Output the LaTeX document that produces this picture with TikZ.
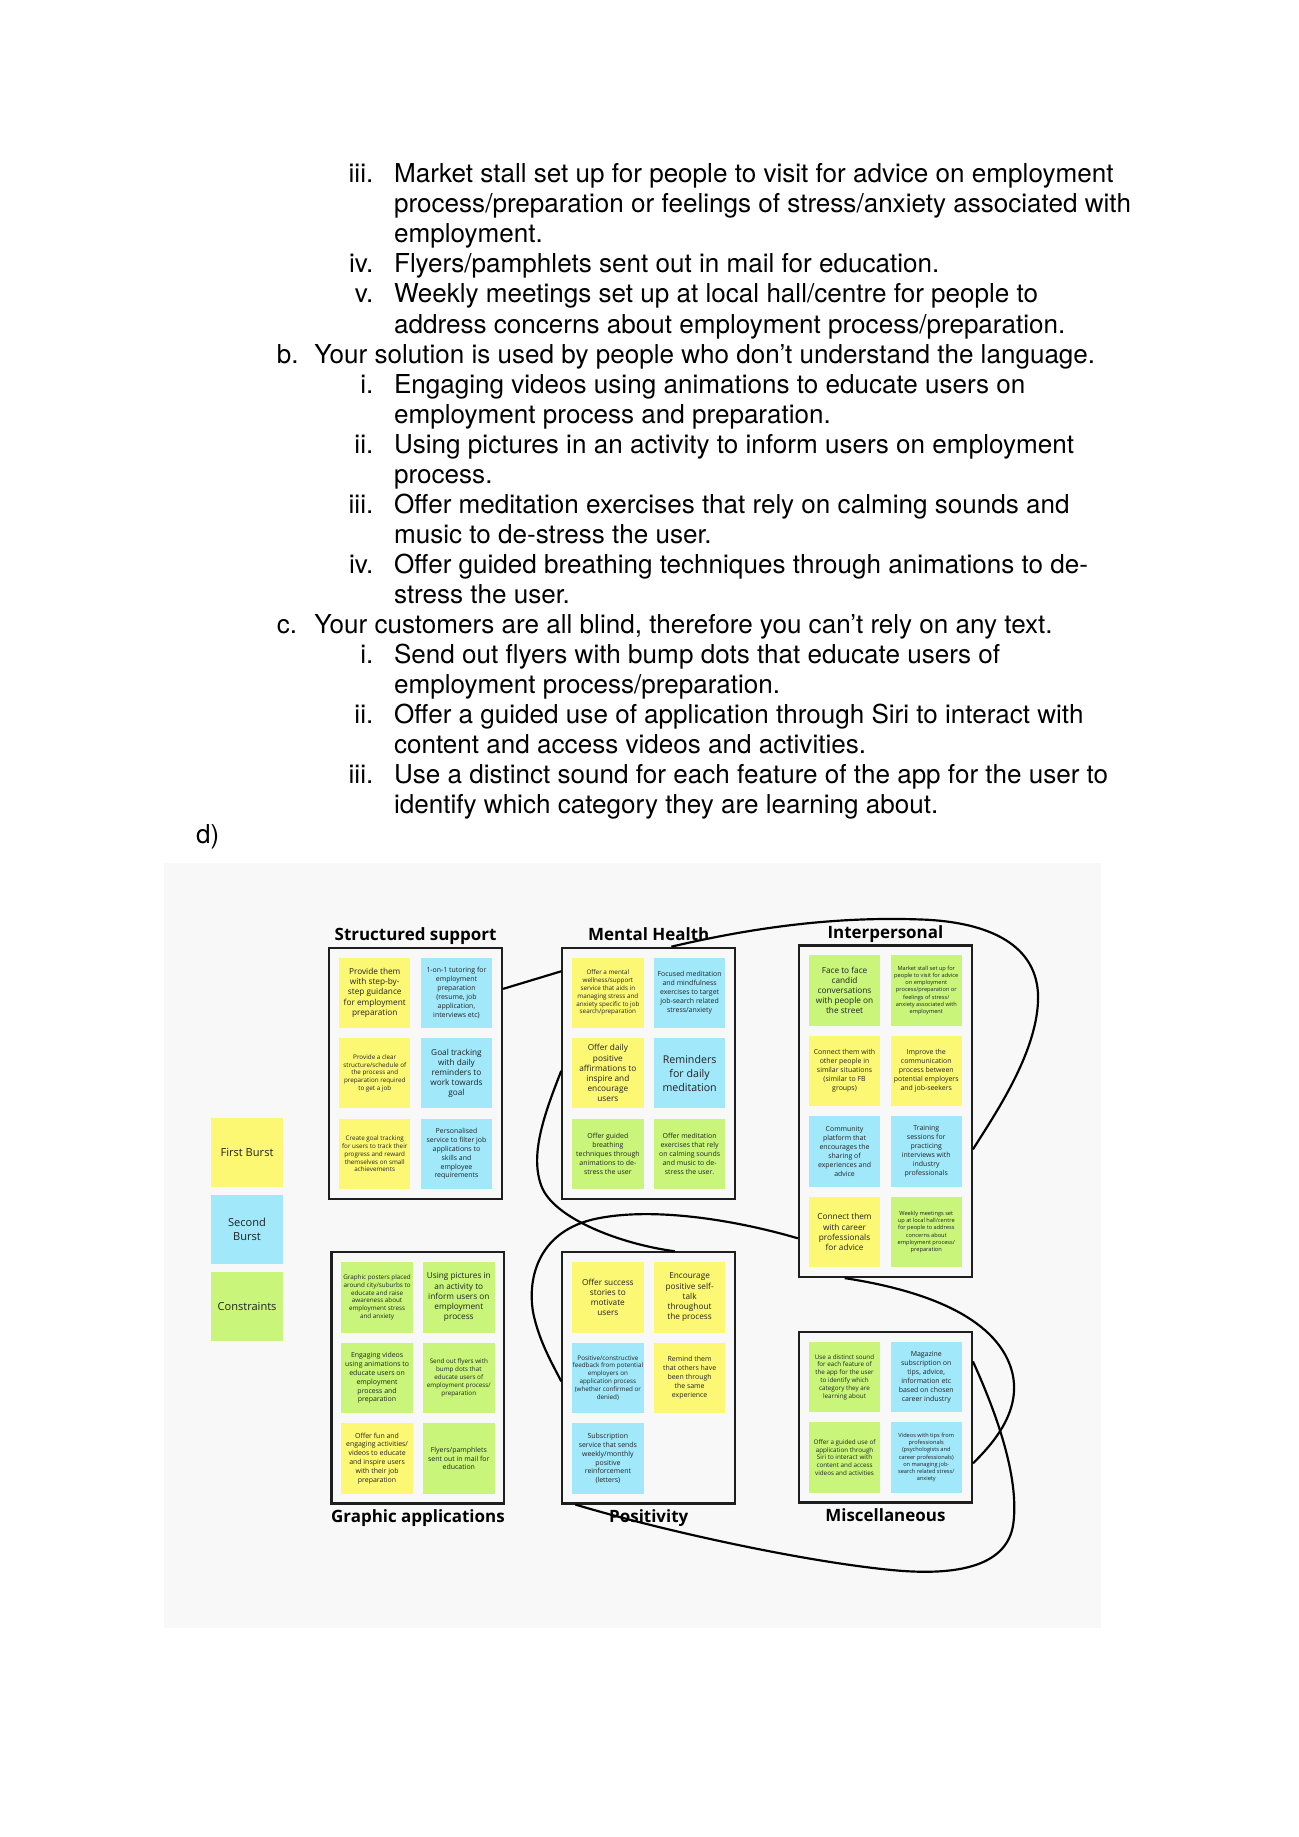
\documentclass[tikz,border=0pt]{standalone}
\usepackage{fontspec}
\setmainfont{TeX Gyre Heros}
\newfontfamily\stickyfont{Open Sans}
\usepackage{xcolor}
\usepackage{tikz}
\usetikzlibrary{positioning, fit, calc}

\definecolor{stickyYellow}{HTML}{FCF874}
\definecolor{stickyBlue}{HTML}{A0E8FA}
\definecolor{stickyGreen}{HTML}{C8F57A}
\definecolor{panelGrey}{HTML}{F8F8F8}
\definecolor{frameDark}{HTML}{1E1E1E}
\definecolor{noteText}{HTML}{222222}

\newcommand{\fsL}{\stickyfont\fontsize{4.9}{6.4}\selectfont}
\newcommand{\fsML}{\stickyfont\fontsize{3.8}{4.7}\selectfont}
\newcommand{\fsM}{\stickyfont\fontsize{3.2}{4.1}\selectfont}
\newcommand{\fsS}{\stickyfont\fontsize{2.9}{3.6}\selectfont}
\newcommand{\fsXS}{\stickyfont\fontsize{2.6}{3.3}\selectfont}

\begin{document}
\begin{tikzpicture}[
    x=0.018953cm, y=-0.018953cm,
    node distance=0.152cm,
]
\tikzset{
    bodytext/.style={anchor=base west, inner sep=0pt, font=\fontsize{12}{14}\selectfont},
    enumlabel/.style={anchor=base east, inner sep=0pt, font=\fontsize{12}{14}\selectfont},
    note/.style={
        rectangle, minimum width=1.156cm, minimum height=1.137cm,
        inner sep=0pt, align=center, text=noteText,
    },
    yellownote/.style={note, fill=stickyYellow},
    bluenote/.style={note, fill=stickyBlue},
    greennote/.style={note, fill=stickyGreen},
    keynote/.style={note, minimum height=1.118cm, font=\stickyfont\fontsize{5.1}{6.3}\selectfont},
    groupframe/.style={draw=frameDark, line width=1pt, inner sep=0.152cm},
    grouptitle/.style={inner sep=0pt, font=\stickyfont\bfseries\fontsize{7.8}{9}\selectfont},
    link/.style={draw=black, line width=1pt},
}
\useasboundingbox (0,0) rectangle (1108,1568);

% list text above the board
\node[enumlabel] (n1) at (319,156.0) {iii.};
\node[bodytext] (l1) at (336,156.0) {Market stall set up for people to visit for advice on employment};
\node[bodytext] (l2) at (336,181.7) {process/preparation or feelings of stress/anxiety associated with};
\node[bodytext] (l3) at (336,207.3) {employment.};
\node[enumlabel] (n4) at (319,233.0) {iv.};
\node[bodytext] (l4) at (336,233.0) {Flyers/pamphlets sent out in mail for education.};
\node[enumlabel] (n5) at (319,258.6) {v.};
\node[bodytext] (l5) at (336,258.6) {Weekly meetings set up at local hall/centre for people to};
\node[bodytext] (l6) at (336,284.3) {address concerns about employment process/preparation.};
\node[bodytext] (n7) at (236,309.9) {b.};
\node[bodytext] (l7) at (268,309.9) {Your solution is used by people who don’t understand the language.};
\node[enumlabel] (n8) at (319,335.6) {i.};
\node[bodytext] (l8) at (336,335.6) {Engaging videos using animations to educate users on};
\node[bodytext] (l9) at (336,361.2) {employment process and preparation.};
\node[enumlabel] (n10) at (319,386.9) {ii.};
\node[bodytext] (l10) at (336,386.9) {Using pictures in an activity to inform users on employment};
\node[bodytext] (l11) at (336,412.5) {process.};
\node[enumlabel] (n12) at (319,438.2) {iii.};
\node[bodytext] (l12) at (336,438.2) {Offer meditation exercises that rely on calming sounds and};
\node[bodytext] (l13) at (336,463.8) {music to de-stress the user.};
\node[enumlabel] (n14) at (319,489.5) {iv.};
\node[bodytext] (l14) at (336,489.5) {Offer guided breathing techniques through animations to de-};
\node[bodytext] (l15) at (336,515.1) {stress the user.};
\node[bodytext] (n16) at (236,540.8) {c.};
\node[bodytext] (l16) at (268,540.8) {Your customers are all blind, therefore you can’t rely on any text.};
\node[enumlabel] (n17) at (319,566.4) {i.};
\node[bodytext] (l17) at (336,566.4) {Send out flyers with bump dots that educate users of};
\node[bodytext] (l18) at (336,592.1) {employment process/preparation.};
\node[enumlabel] (n19) at (319,617.7) {ii.};
\node[bodytext] (l19) at (336,617.7) {Offer a guided use of application through Siri to interact with};
\node[bodytext] (l20) at (336,643.4) {content and access videos and activities.};
\node[enumlabel] (n21) at (319,669.0) {iii.};
\node[bodytext] (l21) at (336,669.0) {Use a distinct sound for each feature of the app for the user to};
\node[bodytext] (l22) at (336,694.7) {identify which category they are learning about.};
\node[bodytext] (n23) at (167,720.3) {d)};

% board
\fill[panelGrey] (140,737) rectangle (940,1390);

% key
\node[keynote, fill=stickyYellow, anchor=north west] (keyFirst) at (180,954) {First Burst};
\node[keynote, fill=stickyBlue, below=0.11cm of keyFirst] (keySecond) {Second\\Burst};
\node[keynote, fill=stickyGreen, below=0.11cm of keySecond] (keyCons) {Constraints};

% Structured support
\node[yellownote, anchor=north west, font=\fsML] (a1) at (289,817) {Provide them\\with step-by-\\step guidance\\for employment\\preparation};
\node[bluenote, right=of a1, font=\fsM] (a2) {1-on-1 tutoring for\\employment\\preparation\\(resume, job\\application,\\interviews etc)};
\node[yellownote, below=of a1, font=\fsS] (a3) {Provide a clear\\structure/schedule of\\the process and\\preparation required\\to get a job};
\node[bluenote, right=of a3, font=\fsML] (a4) {Goal tracking\\with daily\\reminders to\\work towards\\goal};
\node[yellownote, below=of a3, font=\fsS] (a5) {Create goal tracking\\for users to track their\\progress and reward\\themselves on small\\achievements};
\node[bluenote, right=of a5, font=\fsM] (a6) {Personalised\\service to filter job\\applications to\\skills and\\employee\\requirements};
\node[groupframe, fit=(a1)(a6)] (ssF) {};
\node[grouptitle, above=0.1cm of ssF, anchor=base] (ssT) {Structured support};

% Mental Health
\node[yellownote, anchor=north west, font=\fsS] (b1) at (488,817) {Offer a mental\\wellness/support\\service that aids in\\managing stress and\\anxiety specific to job\\search/preparation};
\node[bluenote, right=of b1, font=\fsM] (b2) {Focused meditation\\and mindfulness\\exercises to target\\job-search related\\stress/anxiety};
\node[yellownote, below=of b1, font=\fsML] (b3) {Offer daily\\positive\\affirmations to\\inspire and\\encourage\\users};
\node[bluenote, right=of b3, font=\fsL] (b4) {Reminders\\for daily\\meditation};
\node[greennote, below=of b3, font=\fsM] (b5) {Offer guided\\breathing\\techniques through\\animations to de-\\stress the user};
\node[greennote, right=of b5, font=\fsM] (b6) {Offer meditation\\exercises that rely\\on calming sounds\\and music to de-\\stress the user.};
\node[groupframe, fit=(b1)(b6)] (mhF) {};
\node[grouptitle, above=0.1cm of mhF, anchor=base] (mhT) {Mental Health};

% Interpersonal
\node[greennote, anchor=north west, font=\fsML] (c1) at (690,815) {Face to face\\candid\\conversations\\with people on\\the street};
\node[greennote, right=of c1, font=\fsXS] (c2) {Market stall set up for\\people to visit for advice\\on employment\\process/preparation or\\feelings of stress/\\anxiety associated with\\employment};
\node[yellownote, below=of c1, font=\fsM] (c3) {Connect them with\\other people in\\similar situations\\(similar to FB\\groups)};
\node[yellownote, right=of c3, font=\fsM] (c4) {Improve the\\communication\\process between\\potential employers\\and job-seekers};
\node[bluenote, below=of c3, font=\fsM] (c5) {Community\\platform that\\encourages the\\sharing of\\experiences and\\advice};
\node[bluenote, right=of c5, font=\fsM] (c6) {Training\\sessions for\\practicing\\interviews with\\industry\\professionals};
\node[yellownote, below=of c5, font=\fsML] (c7) {Connect them\\with career\\professionals\\for advice};
\node[greennote, right=of c7, font=\fsXS] (c8) {Weekly meetings set\\up at local hall/centre\\for people to address\\concerns about\\employment process/\\preparation};
\node[groupframe, fit=(c1)(c8)] (ipF) {};
\node[grouptitle, above=0.1cm of ipF, anchor=base] (ipT) {Interpersonal};

% Graphic applications
\node[greennote, anchor=north west, font=\fsS] (d1) at (291,1077) {Graphic posters placed\\around city/suburbs to\\educate and raise\\awareness about\\employment stress\\and anxiety};
\node[greennote, right=of d1, font=\fsML] (d2) {Using pictures in\\an activity to\\inform users on\\employment\\process};
\node[greennote, below=of d1, font=\fsM] (d3) {Engaging videos\\using animations to\\educate users on\\employment\\process and\\preparation};
\node[greennote, right=of d3, font=\fsS] (d4) {Send out flyers with\\bump dots that\\educate users of\\employment process/\\preparation};
\node[yellownote, below=of d3, font=\fsM] (d5) {Offer fun and\\engaging activities/\\videos to educate\\and inspire users\\with their job\\preparation};
\node[greennote, right=of d5, font=\fsM] (d6) {Flyers/pamphlets\\sent out in mail for\\education};
\node[groupframe, fit=(d1)(d6)] (gaF) {};
\node[grouptitle, below=0.07cm of gaF] (gaT) {Graphic applications};

% Positivity
\node[yellownote, anchor=north west, font=\fsML] (e1) at (488,1077) {Offer success\\stories to\\motivate\\users};
\node[yellownote, right=of e1, font=\fsML] (e2) {Encourage\\positive self-\\talk\\throughout\\the process};
\node[bluenote, below=of e1, font=\fsS] (e3) {Positive/constructive\\feedback from potential\\employers on\\application process\\(whether confirmed or\\denied)};
\node[yellownote, right=of e3, font=\fsM] (e4) {Remind them\\that others have\\been through\\the same\\experience};
\node[bluenote, below=of e3, font=\fsM] (e5) {Subscription\\service that sends\\weekly/monthly\\positive\\reinforcement\\(letters)};
\node[groupframe, fit=(e1)(e4)(e5)] (poF) {};
\node[grouptitle, below=0.07cm of poF] (poT) {Positivity};

% Miscellaneous
\node[greennote, anchor=north west, font=\fsS] (f1) at (690,1145) {Use a distinct sound\\for each feature of\\the app for the user\\to identify which\\category they are\\learning about};
\node[bluenote, right=of f1, font=\fsM] (f2) {Magazine\\subscription on\\tips, advice,\\information etc\\based on chosen\\career industry};
\node[greennote, below=of f1, font=\fsS] (f3) {Offer a guided use of\\application through\\Siri to interact with\\content and access\\videos and activities};
\node[bluenote, right=of f3, font=\fsXS] (f4) {Videos with tips from\\professionals\\(psychologists and\\career professionals)\\on managing job-\\search related stress/\\anxiety};
\node[groupframe, fit=(f1)(f4)] (miF) {};
\node[grouptitle, below=0.07cm of miF] (miT) {Miscellaneous};

% hand-drawn links between groups
\draw[link] ($(ssF.north east)+(0,36)$) -- ($(mhF.north west)+(0,21)$);
\draw[link] ($(mhF.north west)+(94,0)$)
    .. controls (650,790) and (720,782) .. (790,785)
    .. controls (850,788) and (888,810) .. (886,855)
    .. controls (884,900) and (850,950) .. ($(ipF.north east)+(0,175)$);
\draw[link] ($(mhF.north west)+(0,106)$)
    .. controls (465,950) and (452,985) .. (462,1012)
    .. controls (472,1040) and (530,1062) .. ($(poF.north west)+(97,0)$);
\draw[link] ($(ipF.south west)+(0,-34)$)
    .. controls (630,1042) and (560,1030) .. (510,1040)
    .. controls (460,1050) and (450,1090) .. (455,1120)
    .. controls (460,1145) and (472,1165) .. ($(poF.north west)+(0,111)$);
\draw[link] ($(ipF.south west)+(40,0)$)
    .. controls (780,1100) and (845,1120) .. (862,1165)
    .. controls (875,1200) and (850,1230) .. ($(miF.north east)+(0,113)$);
\draw[link] ($(miF.north east)+(0,26)$)
    .. controls (850,1205) and (870,1260) .. (865,1300)
    .. controls (860,1340) and (810,1345) .. (760,1340)
    .. controls (680,1332) and (560,1305) .. ($(poF.south west)+(12,0)$);

\end{tikzpicture}
\end{document}
